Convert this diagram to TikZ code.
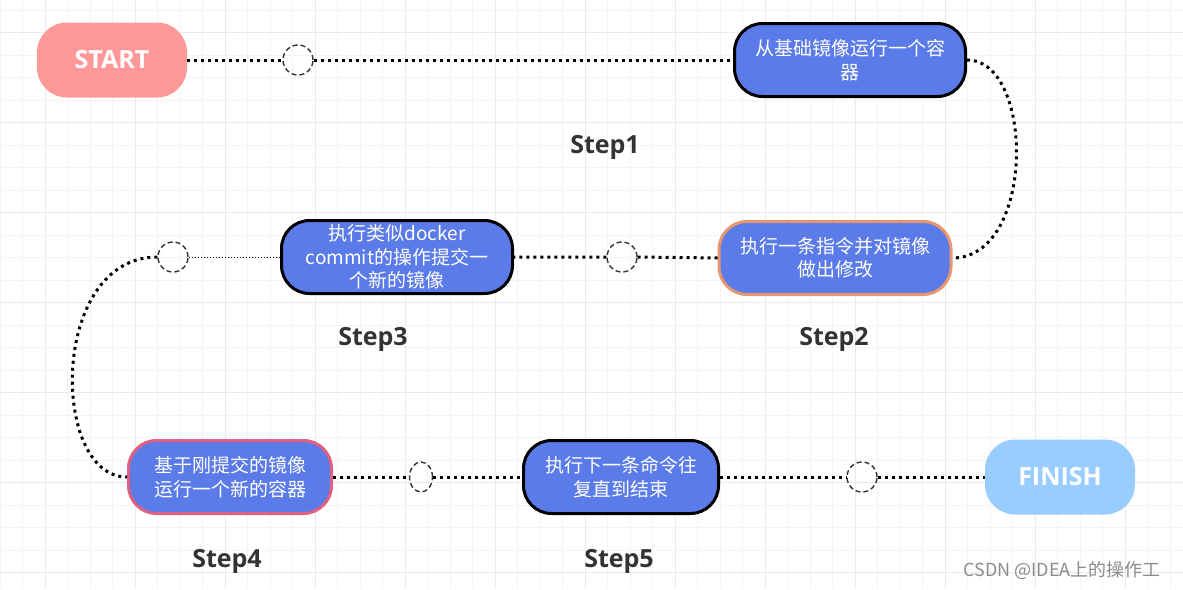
\documentclass[tikz,border=0pt]{standalone}
\usepackage{fontspec}
\setmainfont{Open Sans}
\newfontfamily\cjk{Noto Sans CJK SC}
\usetikzlibrary{shapes.geometric}
\definecolor{stepblue}{RGB}{91,123,232}
\definecolor{startpink}{RGB}{255,153,153}
\definecolor{finishblue}{RGB}{153,204,255}
\definecolor{edgeorange}{RGB}{230,150,112}
\definecolor{edgerose}{RGB}{224,96,128}
\definecolor{gridminor}{RGB}{244,244,244}
\definecolor{gridmajor}{RGB}{234,234,234}
\begin{document}
\begin{tikzpicture}[x=1pt,y=-1pt,
  box/.style={draw=black,line width=3pt,fill=stepblue,rounded corners=28pt,minimum height=73pt,text=white,align=center,inner sep=0pt,font=\cjk\fontsize{19}{23.5}\selectfont},
  endbox/.style={rounded corners=30pt,minimum width=150pt,minimum height=75pt,text=white,font=\bfseries\fontsize{25}{28}\selectfont},
  hole/.style={draw=black!80,circle,minimum size=30pt,inner sep=0pt,line width=1.4pt,dash pattern=on 5pt off 3pt},
  link/.style={line width=3pt,dash pattern=on 3pt off 4pt},
  steplabel/.style={text=black!80,font=\bfseries\fontsize{25}{28}\selectfont}]
\useasboundingbox[fill=white] (0,0) rectangle (1183,589);
\foreach \x in {0,22.5,...,1183} \draw[gridminor,line width=0.9pt] (\x,0)--(\x,589);
\foreach \y in {10,32.5,...,589} \draw[gridminor,line width=0.9pt] (0,\y)--(1183,\y);
\foreach \x in {45,135,...,1183} \draw[gridmajor,line width=1pt] (\x,0)--(\x,589);
\foreach \y in {32.5,122.5,...,589} \draw[gridmajor,line width=1pt] (0,\y)--(1183,\y);

\node[endbox,fill=startpink] (start) at (112,60) {START};
\node[hole] (c1) at (298,60) {};
\node[box,minimum width=231pt] (s1) at (850,60) {从基础镜像运行一个容\\器};
\node[box,draw=edgeorange,minimum width=232pt] (s2) at (835,258) {执行一条指令并对镜像\\做出修改};
\node[hole] (c2) at (622,257) {};
\node[box,minimum width=231pt] (s3) at (397,257) {执行类似docker\\commit的操作提交一\\个新的镜像};
\node[hole] (c3) at (173,257) {};
\node[box,draw=edgerose,minimum width=203pt] (s4) at (230,477) {基于刚提交的镜像\\运行一个新的容器};
\node[hole,ellipse,minimum width=23pt,minimum height=30pt] (c4) at (421,477) {};
\node[box,minimum width=195pt] (s5) at (621,477) {执行下一条命令往\\复直到结束};
\node[hole] (c5) at (862,477) {};
\node[endbox,fill=finishblue] (finish) at (1060,477) {FINISH};

\draw[link] (start.east)--(c1.west) (c1.east)--(s1.west);
\draw[link] (s1.east) .. controls +(68,0) and +(83,0) .. (s2.east);
\draw[link] (s2.west)--(c2.east) (c2.west)--(s3.east);
\draw[line width=1pt,dotted] (s3.west)--(c3.east);
\draw[link] (c3.west) .. controls +(-108,0) and +(-77,0) .. (s4.west);
\draw[link] (s4.east)--(c4.west) (c4.east)--(s5.west);
\draw[link] (s5.east)--(c5.west) (c5.east)--(finish.west);

\node[steplabel] (l1) at (605,147) {Step1};
\node[steplabel] (l2) at (834,339) {Step2};
\node[steplabel] (l3) at (373,339) {Step3};
\node[steplabel] (l4) at (227,561) {Step4};
\node[steplabel] (l5) at (619,561) {Step5};
\node[text=black!45,font=\cjk\fontsize{18}{21}\selectfont] (mark) at (1062,570) {CSDN @IDEA上的操作工};
\end{tikzpicture}
\end{document}
